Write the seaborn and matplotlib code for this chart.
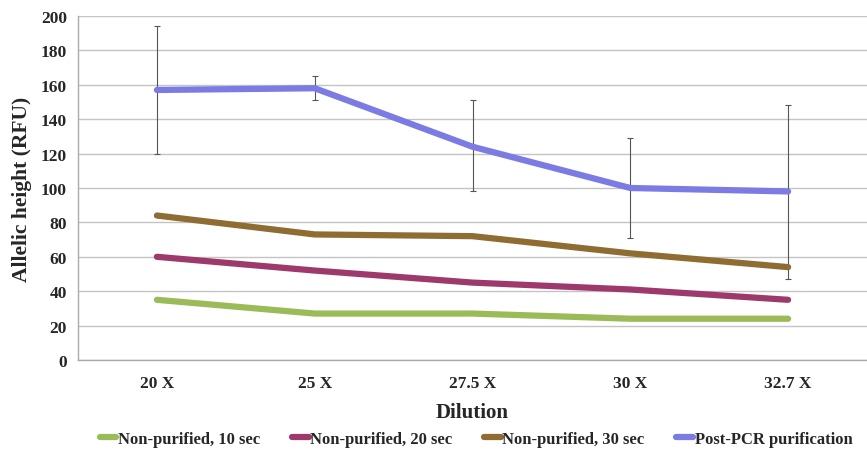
import matplotlib
matplotlib.use("Agg")
import matplotlib.pyplot as plt
import seaborn as sns
import pandas as pd
import numpy as np
from matplotlib.lines import Line2D

dilutions = ["20 X", "25 X", "27.5 X", "30 X", "32.7 X"]
series_names = ["Non-purified, 10 sec", "Non-purified, 20 sec",
                "Non-purified, 30 sec", "Post-PCR purification"]
np10 = [35, 27, 27, 24, 24]
np20 = [60, 52, 45, 41, 35]
np30 = [84, 73, 72, 62, 54]
post = [157, 158, 124, 100, 98]
post_upper = [194, 165, 151, 129, 148]
post_lower = [120, 151, 98, 71, 47]
colors = ["#9BBB59", "#9E3A6B", "#8E6C32", "#7B7BE3"]

rows = []
for name, vals in zip(series_names, [np10, np20, np30, post]):
    for d, v in zip(dilutions, vals):
        rows.append({"Dilution": d, "value": v, "series": name})
df = pd.DataFrame(rows)

sns.set_style("white")
plt.rcParams['font.family'] = ['Liberation Serif', 'DejaVu Serif']

fig = plt.figure(figsize=(8.67, 4.52), dpi=100)
ax = fig.add_axes([78/867, 91/452, (867-78)/867, 344/452])

ax.yaxis.grid(True, color="#C4C4C4", lw=1.0)
ax.set_axisbelow(True)

# error bars for post-PCR
xpos = np.arange(len(dilutions))
yerr = [np.array(post) - np.array(post_lower), np.array(post_upper) - np.array(post)]
ax.errorbar(xpos, post, yerr=yerr, fmt="none", ecolor="#555555", elinewidth=0.8,
            capsize=2, capthick=0.8, zorder=3)

sns.lineplot(data=df, x="Dilution", y="value", hue="series", palette=colors,
             hue_order=series_names, linewidth=4.5, sort=False, ax=ax,
             legend=False, zorder=4)
for ln in ax.lines:
    ln.set_solid_capstyle("round")
    ln.set_solid_joinstyle("round")

ax.set_ylim(0, 200)
ax.set_yticks(range(0, 201, 20))
ax.set_xlim(-0.5, 4.5 - 12/160)
ax.set_xticks(xpos)
ax.set_xticklabels(dilutions)
ax.set_xticks(np.arange(-0.5, 5.0, 1.0), minor=True)
ax.tick_params(axis="x", which="major", length=0, pad=11, labelsize=12.5)
ax.tick_params(axis="x", which="minor", length=5, color="#AAAAAA", width=1)
ax.tick_params(axis="y", length=5, color="#AAAAAA", width=1, labelsize=12.5, pad=3)
for lab in ax.get_xticklabels() + ax.get_yticklabels():
    lab.set_fontweight("bold")

for s in ["top", "right"]:
    ax.spines[s].set_visible(False)
for s in ["left", "bottom"]:
    ax.spines[s].set_color("#AAAAAA")
    ax.spines[s].set_linewidth(1)

ax.set_xlabel("Dilution", fontsize=15, fontweight="bold", labelpad=8)
ax.set_ylabel("Allelic height (RFU)", fontsize=15.5, fontweight="bold", labelpad=6)

handles = [Line2D([0], [0], color=c, lw=4.5, solid_capstyle="round") for c in colors]
fig.legend(handles, series_names, loc="center", bbox_to_anchor=(476/867, 1 - 440/452),
           ncol=4, frameon=False, handlelength=1.0, handletextpad=0.1,
           columnspacing=1.9, prop={"size": 12, "family": "Liberation Serif", "weight": "bold"})

fig.savefig("out.png", dpi=100)
